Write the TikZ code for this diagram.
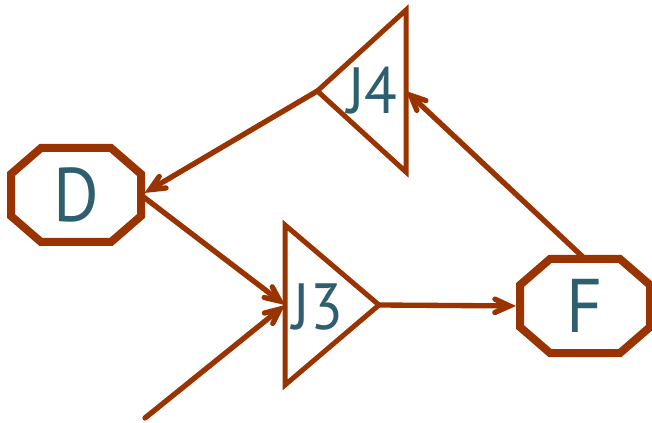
\documentclass[tikz,border=0pt]{standalone}
\usepackage{fontspec}
\setmainfont[FakeStretch=0.92]{PT Sans}
\usepackage{tikz}
\usetikzlibrary{arrows.meta, shapes.geometric, calc}
\definecolor{rust}{RGB}{153,51,0}
\definecolor{slate}{RGB}{45,95,110}

\begin{document}
\begin{tikzpicture}[x=0.75pt,y=0.75pt,yscale=-1,xscale=1,
  octa/.style={rectangle, minimum width=97.5pt, minimum height=70.5pt, inner sep=0pt, outer sep=0pt,
    text=slate, font=\fontsize{57}{60}\selectfont},
  octline/.style={draw=rust, line width=6pt},
  tri/.style={isosceles triangle, isosceles triangle stretches, draw=rust, line width=3.75pt,
    inner sep=0pt, outer sep=0pt},
  trilabel/.style={inner sep=0pt, text=slate, font=\fontsize{49}{52}\selectfont},
  flow/.style={draw=rust, line width=4pt, line cap=round,
    -{Straight Barb[length=11pt,width=10pt,line cap=round]}},
  into/.style={shorten >=3pt}]
\path[use as bounding box] (0,0) rectangle (652,423);

% Text Node
\node[octa] (D) at (76,195) {D};
% Text Node
\node[octa] (F) at (585,306) {F};
%Shape: Octagon [D, F]
\foreach \n in {D,F}
  \draw[octline] ($(\n.north west)+(30,0)$) -- ($(\n.north east)+(-30,0)$) -- ($(\n.north east)+(0,26)$)
    -- ($(\n.south east)+(0,-26)$) -- ($(\n.south east)+(-30,0)$) -- ($(\n.south west)+(30,0)$)
    -- ($(\n.south west)+(0,-26)$) -- ($(\n.north west)+(0,26)$) -- cycle ;
%Shape: Triangle 
\node[tri, minimum width=120pt, minimum height=70.5pt, anchor=lower side] (J3) at (285,305) {};
%Shape: Triangle 
\node[tri, minimum width=121.5pt, minimum height=66.5pt, shape border rotate=180, anchor=lower side] (J4) at (406,91) {};
% Text Node
\node[trilabel] (J3 text) at ($(J3.lower side)!0.35!(J3.apex)+(0,2)$) {J3};
% Text Node
\node[trilabel] (J4 text) at ($(J4.lower side)!0.38!(J4.apex)$) {J4};
%Coordinate: loose end
\coordinate (feed) at (145,418);

%Straight Lines 
\draw[flow, into] (J4.apex) -- (D.east);
%Straight Lines 
\draw[flow] (D.east) -- (J3.lower side);
%Straight Lines 
\draw[flow] (feed) -- (J3.lower side);
%Straight Lines 
\draw[flow, into] (J3.apex) -- (F.west);
%Straight Lines 
\draw[flow] (F.north) -- (J4.lower side);

\end{tikzpicture}
\end{document}
